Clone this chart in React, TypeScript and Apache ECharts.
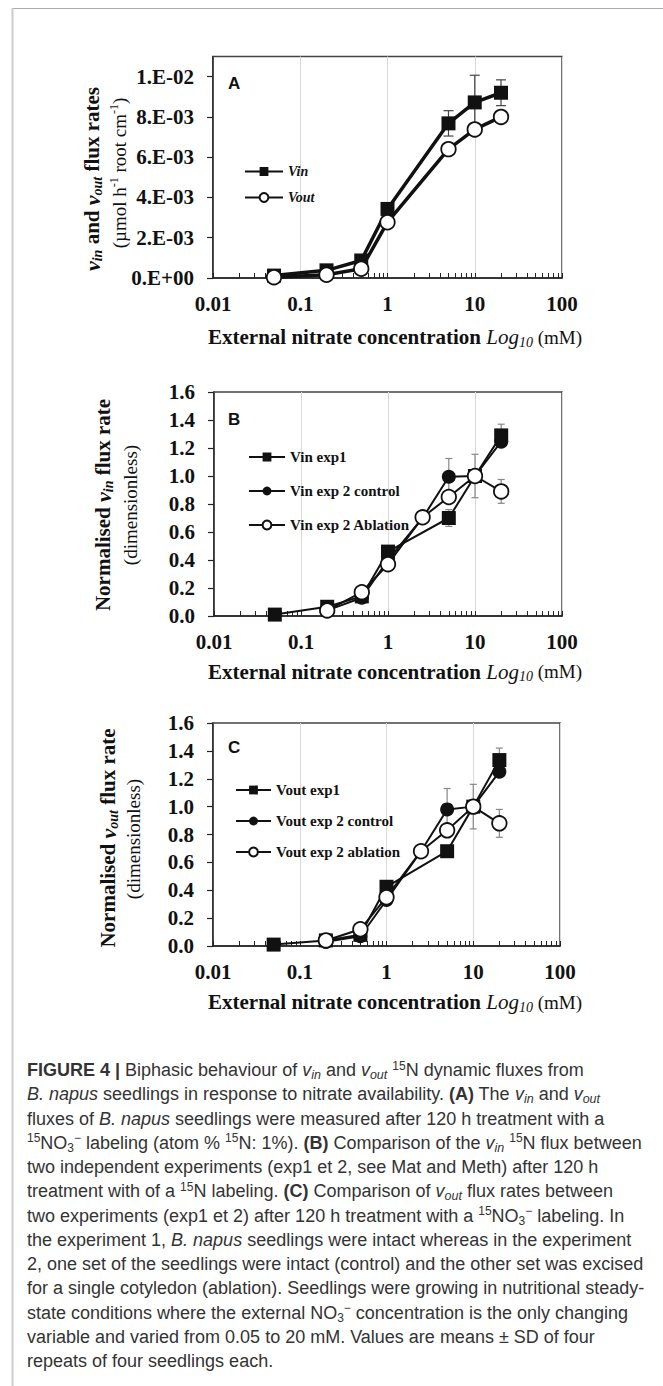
import React, { useEffect, useRef } from "react";
import * as echarts from "echarts";

const SERIF = "'Liberation Serif', 'Times New Roman', serif";
const SANS = "'Liberation Sans', Arial, sans-serif";

// ---------------- data ----------------
// Panel A : absolute fluxes
const concA = [0.05, 0.2, 0.5, 1, 5, 10, 20];
const vinA = [0.00012, 0.00038, 0.00087, 0.00343, 0.00768, 0.00872, 0.0092];
const voutA = [0.00004, 0.00016, 0.00046, 0.00277, 0.0064, 0.00738, 0.008];
const vinASd = [0, 0, 0, 0, 0.00063, 0.00135, 0.00064];

// Panels B and C : normalised fluxes
const concExp1 = [0.05, 0.2, 0.5, 1, 5, 10, 20];
const concExp2 = [0.2, 0.5, 1, 2.5, 5, 10, 20];

const vinExp1 = [0.01, 0.066, 0.14, 0.46, 0.7, 1.0, 1.29];
const vinCtrl = [0.04, 0.13, 0.4, 0.7, 0.995, 1.0, 1.245];
const vinAbl = [0.04, 0.17, 0.37, 0.705, 0.85, 1.0, 0.89];
const vinExp1Sd = [0, 0, 0, 0, 0.06, 0, 0.08];
const vinCtrlSd = [0, 0, 0, 0, 0.13, 0.155, 0];
const vinAblSd = [0, 0, 0, 0, 0, 0, 0.085];

const voutExp1 = [0.01, 0.04, 0.08, 0.425, 0.68, 1.0, 1.334];
const voutCtrl = [0.03, 0.07, 0.33, 0.68, 0.98, 1.0, 1.25];
const voutAbl = [0.04, 0.12, 0.35, 0.68, 0.83, 1.0, 0.88];
const voutExp1Sd = [0, 0, 0, 0, 0, 0, 0.086];
const voutCtrlSd = [0, 0, 0, 0, 0.15, 0.16, 0];
const voutAblSd = [0, 0, 0, 0, 0, 0, 0.1];

// Tick labels
const xTickValues = [0.01, 0.1, 1, 10, 100];
const xTickLabels = ["0.01", "0.1", "1", "10", "100"];
const minorMultipliers = [1, 2, 3, 4, 5, 6, 7, 8, 9];
const decades = [0.01, 0.1, 1, 10];
const yTickValuesA = [0, 0.002, 0.004, 0.006, 0.008, 0.01];
const yTickLabelsA = ["0.E+00", "2.E-03", "4.E-03", "6.E-03", "8.E-03", "1.E-02"];
const yTickValuesBC = [0, 0.2, 0.4, 0.6, 0.8, 1.0, 1.2, 1.4, 1.6];
const yTickLabelsBC = ["0.0", "0.2", "0.4", "0.6", "0.8", "1.0", "1.2", "1.4", "1.6"];

const legendA = ["Vin", "Vout"];
const legendB = ["Vin exp1", "Vin exp 2 control", "Vin exp 2 Ablation"];
const legendC = ["Vout exp1", "Vout exp 2 control", "Vout exp 2 ablation"];

const captionLines = [
  "{b|FIGURE 4 |} Biphasic behaviour of {i|v}{isub|in} and {i|v}{isub|out} {sup|15}N dynamic fluxes from",
  "{i|B. napus} seedlings in response to nitrate availability. {b|(A)} The {i|v}{isub|in} and {i|v}{isub|out}",
  "fluxes of {i|B. napus} seedlings were measured after 120 h treatment with a",
  "{sup|15}NO{sub0|3}{sup|−} labeling (atom % {sup|15}N: 1%). {b|(B)} Comparison of the {i|v}{isub|in} {sup|15}N flux between",
  "two independent experiments (exp1 et 2, see Mat and Meth) after 120 h",
  "treatment with of a {sup|15}N labeling. {b|(C)} Comparison of {i|v}{isub|out} flux rates between",
  "two experiments (exp1 et 2) after 120 h treatment with a {sup|15}NO{sub0|3}{sup|−} labeling. In",
  "the experiment 1, {i|B. napus} seedlings were intact whereas in the experiment",
  "2, one set of the seedlings were intact (control) and the other set was excised",
  "for a single cotyledon (ablation). Seedlings were growing in nutritional steady-",
  "state conditions where the external NO{sub0|3}{sup|−} concentration is the only changing",
  "variable and varied from 0.05 to 20 mM. Values are means ± SD of four",
  "repeats of four seedlings each.",
];

// ---------------- helpers ----------------
const minorTickValues: number[] = [];
decades.forEach((d) => minorMultipliers.forEach((m) => minorTickValues.push(+(d * m).toPrecision(6))));
minorTickValues.push(100);

const AX = "#222";
const grids = [
  { left: 213, top: 56.5, width: 349, height: 221.5 },
  { left: 214, top: 392, width: 348, height: 224 },
  { left: 213, top: 723, width: 347, height: 223 },
];

const fmtX = (v: number) => {
  const i = xTickValues.findIndex((t) => Math.abs(Math.log10(t) - Math.log10(v)) < 1e-6);
  return i >= 0 ? xTickLabels[i] : "";
};

function mainX(gi: number) {
  return {
    type: "log",
    logBase: 10,
    gridIndex: gi,
    min: 0.01,
    max: 100,
    position: "bottom",
    axisLine: { show: true, onZero: false, lineStyle: { color: AX, width: 1.5 } },
    axisTick: { show: false },
    axisLabel: {
      show: true,
      margin: 15,
      fontFamily: SERIF,
      fontWeight: "bold",
      fontSize: 21,
      color: "#111",
      formatter: fmtX,
    },
    splitLine: { show: true, lineStyle: { color: "#d9d9d9", width: 1 } },
  };
}
function minorX(gi: number) {
  return {
    type: "log",
    logBase: 10,
    gridIndex: gi,
    min: 0.01,
    max: 100,
    position: "bottom",
    axisLine: { show: false },
    axisLabel: { show: false },
    splitLine: { show: false },
    axisTick: {
      show: true,
      inside: true,
      length: 5,
      customValues: minorTickValues,
      lineStyle: { color: AX, width: 1 },
    },
  };
}
function yAx(gi: number, max: number, ticks: number[], labels: string[]) {
  return {
    type: "value",
    gridIndex: gi,
    min: 0,
    max,
    axisLine: { show: true, onZero: false, lineStyle: { color: AX, width: 1.5 } },
    axisTick: { show: true, inside: false, length: 6, customValues: ticks, lineStyle: { color: AX, width: 1.2 } },
    axisLabel: {
      customValues: ticks,
      margin: 19,
      fontFamily: SERIF,
      fontWeight: "bold",
      fontSize: 21,
      color: "#111",
      formatter: (v: number) => {
        const i = ticks.findIndex((t) => Math.abs(t - v) < 1e-9);
        return i >= 0 ? labels[i] : "";
      },
    },
    splitLine: { show: false },
  };
}

function lineS(
  name: string,
  xs: number[],
  ys: number[],
  xi: number,
  yi: number,
  kind: "square" | "filled" | "open",
  lw: number,
  size: number
) {
  return {
    type: "line",
    name,
    xAxisIndex: xi,
    yAxisIndex: yi,
    data: xs.map((x, i) => [x, ys[i]]),
    symbol: kind === "square" ? "rect" : "circle",
    symbolSize: kind === "square" ? size : size - 0.5,
    showSymbol: true,
    showAllSymbol: true,
    z: 3,
    lineStyle: { color: "#111", width: lw },
    itemStyle:
      kind === "open"
        ? { color: "#fff", borderColor: "#111", borderWidth: 1.8 }
        : { color: "#111", borderColor: "#111", borderWidth: 0 },
    emphasis: { disabled: true },
    silent: true,
  };
}

function errS(xs: number[], ys: number[], sds: number[], xi: number, yi: number, color: string, hw: number) {
  return {
    type: "custom",
    name: "_err",
    xAxisIndex: xi,
    yAxisIndex: yi,
    z: 1,
    silent: true,
    dimensions: ["x", "y", "e"],
    encode: { x: 0, y: 1 },
    data: xs.map((x, i) => [x, ys[i], sds[i]]).filter((d) => d[2] > 0),
    renderItem: (params: any, api: any) => {
      const x = api.value(0);
      const y = api.value(1);
      const e = api.value(2);
      const p1 = api.coord([x, y + e]);
      const p2 = api.coord([x, y - e]);
      const st = { stroke: color, lineWidth: 1.2 };
      return {
        type: "group",
        children: [
          { type: "line", shape: { x1: p1[0], y1: p1[1], x2: p2[0], y2: p2[1] }, style: st },
          { type: "line", shape: { x1: p1[0] - hw, y1: p1[1], x2: p1[0] + hw, y2: p1[1] }, style: st },
          { type: "line", shape: { x1: p2[0] - hw, y1: p2[1], x2: p2[0] + hw, y2: p2[1] }, style: st },
        ],
      };
    },
  };
}

// rich text styles (zrender names)
const tBase = { fontFamily: SERIF, fill: "#111", lineHeight: 26 };
const titleRich: any = {
  b: { ...tBase, fontSize: 21, fontWeight: "bold", fontStyle: "normal" },
  vi: { ...tBase, fontSize: 22, fontWeight: "bold", fontStyle: "italic" },
  vsub: { ...tBase, fontSize: 14, fontWeight: "bold", fontStyle: "italic", padding: [10, 0, 0, 0] },
  r: { ...tBase, fontSize: 19, fontWeight: "normal", fontStyle: "normal" },
  rsup: { ...tBase, fontSize: 12, fontWeight: "normal", fontStyle: "normal", padding: [0, 0, 10, 0] },
  li: { ...tBase, fontSize: 21, fontWeight: "normal", fontStyle: "italic" },
  lsub: { ...tBase, fontSize: 14, fontWeight: "normal", fontStyle: "italic", padding: [10, 0, 0, 0] },
};

const CAP = 18;
const cBase = { fontFamily: SANS, fill: "#333", lineHeight: 24 };
const capRich: any = {
  b: { ...cBase, fontSize: CAP, fontWeight: "bold", fontStyle: "normal" },
  i: { ...cBase, fontSize: CAP, fontWeight: "normal", fontStyle: "italic" },
  isub: { ...cBase, fontSize: 12.5, fontWeight: "normal", fontStyle: "italic", padding: [10, 0, 0, 0] },
  sup: { ...cBase, fontSize: 12, fontWeight: "normal", fontStyle: "normal", padding: [0, 0, 9, 0] },
  sub0: { ...cBase, fontSize: 12, fontWeight: "normal", fontStyle: "normal", padding: [10, 0, 0, 0] },
};

function txt(x: number, y: number, text: string, rich: any, base: any, align: string, rotation = 0) {
  return {
    type: "text",
    x,
    y,
    rotation,
    silent: true,
    style: {
      text,
      rich,
      ...base,
      align,
      textAlign: align,
      verticalAlign: "middle",
      textVerticalAlign: "middle",
    },
  };
}

const xTitle = "{b|External nitrate concentration }{li|Log}{lsub|10}{r| (mM)}";

export default function App() {
  const ref = useRef<HTMLDivElement>(null);
  useEffect(() => {
    if (!ref.current) return;
    const chart = echarts.init(ref.current, null, { renderer: "svg", width: 663, height: 1386 });

    const legendText = { fontFamily: SERIF, fontWeight: "bold", fontSize: 15, color: "#111" };
    const titleBase = { fontFamily: SERIF, fontSize: 21, fill: "#111", lineHeight: 26, fontWeight: "bold" };
    const capBaseStyle = { fontFamily: SANS, fontSize: CAP, fill: "#333", lineHeight: 24, fontWeight: "normal" };

    const graphics: any[] = [
      { type: "line", silent: true, shape: { x1: 12, y1: 8.5, x2: 663, y2: 8.5 }, style: { stroke: "#aaa", lineWidth: 1 } },
      { type: "line", silent: true, shape: { x1: 12.5, y1: 8, x2: 12.5, y2: 1386 }, style: { stroke: "#ccc", lineWidth: 2 } },
      // panel letters
      ...[
        ["A", 83],
        ["B", 419],
        ["C", 747.5],
      ].map(([l, y]) => ({
        type: "text",
        x: 228,
        y: y as number,
        silent: true,
        style: {
          text: l,
          fontFamily: SANS,
          fontWeight: "bold",
          fontSize: 17,
          fill: "#111",
          verticalAlign: "middle",
          textVerticalAlign: "middle",
        },
      })),
      // y titles
      txt(92, 179, "{vi|v}{vsub|in}{b| and }{vi|v}{vsub|out}{b| flux rates}", titleRich, titleBase, "center", Math.PI / 2),
      txt(119, 173, "{r|(µmol h}{rsup|-1}{r| root cm}{rsup|-1}{r|)}", titleRich, titleBase, "center", Math.PI / 2),
      txt(103, 505, "{b|Normalised }{vi|v}{vsub|in}{b| flux rate}", titleRich, titleBase, "center", Math.PI / 2),
      txt(130, 505, "{r|(dimensionless)}", titleRich, titleBase, "center", Math.PI / 2),
      txt(108, 838, "{b|Normalised }{vi|v}{vsub|out}{b| flux rate}", titleRich, titleBase, "center", Math.PI / 2),
      txt(133, 839, "{r|(dimensionless)}", titleRich, titleBase, "center", Math.PI / 2),
      // x titles
      txt(395, 337, xTitle, titleRich, titleBase, "center"),
      txt(395, 671.5, xTitle, titleRich, titleBase, "center"),
      txt(395, 1002, xTitle, titleRich, titleBase, "center"),
      // caption
      ...captionLines.map((l, i) => txt(27, 1070 + i * 24.25, l, capRich, capBaseStyle, "left")),
    ];

    chart.setOption({
      animation: false,
      backgroundColor: "#fff",
      grid: grids.map((g) => ({ ...g, show: true, borderColor: "#444", borderWidth: 1.5, backgroundColor: "transparent" })),
      xAxis: [mainX(0), minorX(0), mainX(1), minorX(1), mainX(2), minorX(2)],
      yAxis: [
        yAx(0, 0.011, yTickValuesA, yTickLabelsA),
        yAx(1, 1.6, yTickValuesBC, yTickLabelsBC),
        yAx(2, 1.6, yTickValuesBC, yTickLabelsBC),
      ],
      legend: [
        {
          data: legendA,
          orient: "vertical",
          left: 244,
          top: 164.5,
          padding: 0,
          itemWidth: 38,
          itemHeight: 11,
          itemGap: 12,
          selectedMode: false,
          textStyle: { ...legendText, fontSize: 14, fontStyle: "italic" },
        },
        {
          data: legendB,
          orient: "vertical",
          left: 248,
          top: 449.5,
          padding: 0,
          itemWidth: 36,
          itemHeight: 11,
          itemGap: 19,
          selectedMode: false,
          textStyle: legendText,
        },
        {
          data: legendC,
          orient: "vertical",
          left: 235,
          top: 782.5,
          padding: 0,
          itemWidth: 35,
          itemHeight: 11,
          itemGap: 16,
          selectedMode: false,
          textStyle: legendText,
        },
      ],
      series: [
        // Panel A
        errS(concA, vinA, vinASd, 0, 0, "#444", 5),
        lineS("Vin", concA, vinA, 0, 0, "square", 3.5, 14),
        lineS("Vout", concA, voutA, 0, 0, "open", 3.5, 15),
        // Panel B
        errS(concExp1, vinExp1, vinExp1Sd, 2, 1, "#888", 3.5),
        errS(concExp2, vinCtrl, vinCtrlSd, 2, 1, "#888", 3.5),
        errS(concExp2, vinAbl, vinAblSd, 2, 1, "#888", 3.5),
        lineS("Vin exp 2 control", concExp2, vinCtrl, 2, 1, "filled", 2, 14.5),
        lineS("Vin exp1", concExp1, vinExp1, 2, 1, "square", 2, 14),
        lineS("Vin exp 2 Ablation", concExp2, vinAbl, 2, 1, "open", 2, 15),
        // Panel C
        errS(concExp1, voutExp1, voutExp1Sd, 4, 2, "#888", 3.5),
        errS(concExp2, voutCtrl, voutCtrlSd, 4, 2, "#888", 3.5),
        errS(concExp2, voutAbl, voutAblSd, 4, 2, "#888", 3.5),
        lineS("Vout exp 2 control", concExp2, voutCtrl, 4, 2, "filled", 2, 14.5),
        lineS("Vout exp1", concExp1, voutExp1, 4, 2, "square", 2, 14),
        lineS("Vout exp 2 ablation", concExp2, voutAbl, 4, 2, "open", 2, 15),
      ],
      graphic: graphics,
    });

    return () => chart.dispose();
  }, []);

  return (
    <div
      ref={ref}
      style={{ position: "absolute", left: 0, top: 0, width: 663, height: 1386, background: "#fff" }}
    />
  );
}
